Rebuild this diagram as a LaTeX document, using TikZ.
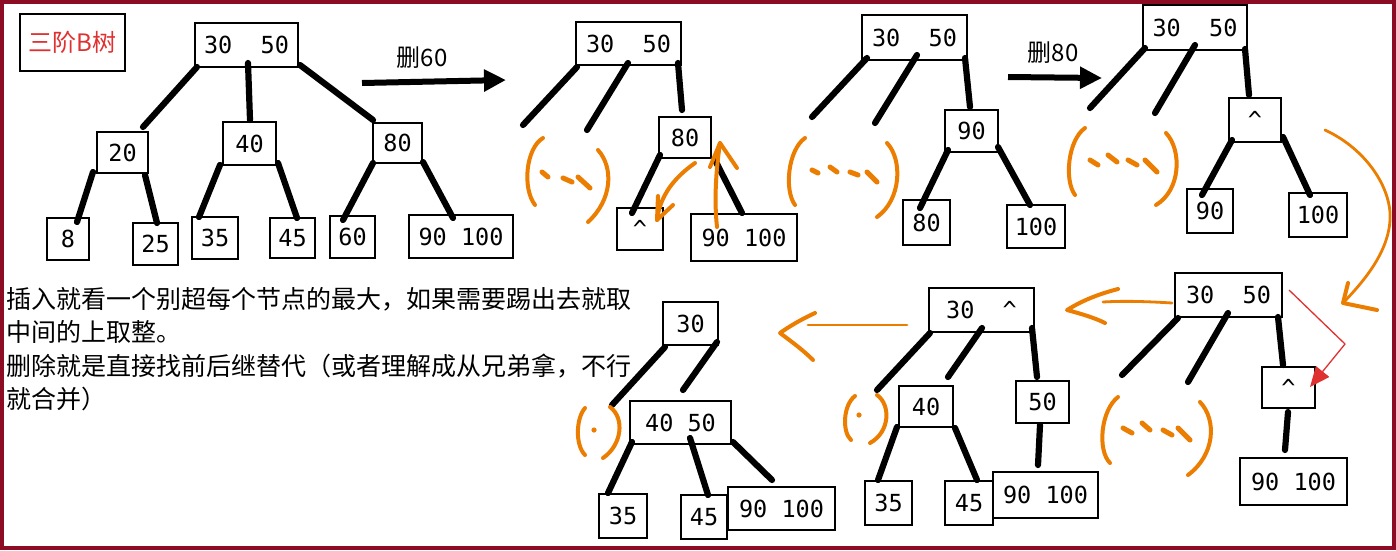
\documentclass[tikz,border=0pt]{standalone}
\usepackage{fontspec}
\setmonofont{DejaVu Sans Mono}
\newfontfamily\cjk{Noto Sans CJK SC}
\usetikzlibrary{calc,arrows.meta}
\definecolor{framered}{RGB}{140,12,35}
\definecolor{exred}{RGB}{224,49,49}
\definecolor{exorange}{RGB}{235,125,0}
\tikzset{
  bx/.style 2 args={draw=black, line width=1.8pt, rectangle, inner sep=0pt,
    minimum width=#1, minimum height=#2,
    font=\ttfamily\fontsize{23.5}{28}\selectfont, text=black},
  edge/.style={line width=6.2pt, line cap=round, black},
  orng/.style={exorange, line width=4pt, line cap=round, line join=round},
  orngdash/.style={exorange, line width=5pt, line cap=round},
  orngthin/.style={exorange, line width=2.8pt, line cap=round, line join=round},
  bigarrow/.style={line width=6pt, -{Triangle[length=22pt,width=21pt]}},
  lbl/.style={font=\cjk\fontsize{24}{28}\selectfont, inner sep=0pt},
}
\newcommand\tedge[6]{\draw[edge] ($(#1)+(#2,#3)$) -- ($(#4)+(#5,#6)$);}
\begin{document}
\begin{tikzpicture}[x=1pt,y=-1pt]
\useasboundingbox (0,0) rectangle (1396,550);
\fill[white] (0,0) rectangle (1396,550);
\draw[framered, line width=4pt] (2,2) rectangle (1394,548);

% title label
\node[draw, line width=1.8pt, minimum width=105pt, minimum height=57pt, inner sep=0pt,
  font=\cjk\fontsize{24}{28}\selectfont, text=exred] (lab) at (72.5,42.5) {三阶B树};

% explanation text
\node[anchor=north west, align=left, inner sep=0pt, font=\cjk\fontsize{25}{33.5}\selectfont] (txt) at (6,287)
  {插入就看一个别超每个节点的最大，如果需要踢出去就取\\中间的上取整。\\删除就是直接找前后继替代（或者理解成从兄弟拿，不行\\就合并）};

% ---------- tree 1 ----------
\node[bx={103pt}{44pt}] (t1r) at (246.5,45) {30~~50};
\node[bx={51pt}{41pt}] (t1a) at (122.5,152.5) {20};
\node[bx={53pt}{43pt}] (t1b) at (249.5,143.5) {40};
\node[bx={49pt}{40pt}] (t1c) at (397.5,143) {80};
\node[bx={42pt}{42pt}] (t1d) at (68,239) {8};
\node[bx={45pt}{42pt}] (t1e) at (155.5,244) {25};
\node[bx={46pt}{42pt}] (t1f) at (215,238) {35};
\node[bx={45pt}{40pt}] (t1g) at (292.5,238) {45};
\node[bx={45pt}{42pt}] (t1h) at (352.5,237) {60};
\node[bx={104pt}{43pt}] (t1i) at (461,236.5) {90 100};
\tedge{t1r}{-49.5}{22}{t1a}{20.5}{-25.5}
\tedge{t1r}{1.5}{18}{t1b}{0.5}{-23.5}
\tedge{t1r}{53.5}{20}{t1c}{-24.5}{-23}
\tedge{t1a}{-29.5}{19.5}{t1d}{9}{-17}
\tedge{t1a}{22.5}{22.5}{t1e}{1.5}{-21}
\tedge{t1b}{-29.5}{21.5}{t1f}{-16}{-21}
\tedge{t1b}{28.5}{19.5}{t1g}{4.5}{-20}
\tedge{t1c}{-24.5}{20}{t1h}{-9.5}{-17}
\tedge{t1c}{25.5}{19}{t1i}{-8}{-18.5}

% arrow delete 60
\node[lbl] (d60) at (422,58) {删60};
\coordinate (a1s) at (362,83);
\coordinate (a1e) at (506,80);
\draw[bigarrow] (a1s) -- (a1e);

% ---------- tree 2 ----------
\node[bx={105pt}{43pt}] (t2r) at (628.5,43.5) {30~~50};
\node[bx={52pt}{41pt}] (t2a) at (685,137.5) {80};
\node[bx={46pt}{42pt}] (t2b) at (640,229) {\textasciicircum};
\node[bx={106pt}{47pt}] (t2c) at (744,237.5) {90 100};
\coordinate (t2x1) at (523,125);
\coordinate (t2x2) at (587,130);
\tedge{t2r}{-51.5}{23.5}{t2x1}{0}{0}
\tedge{t2r}{-0.5}{19.5}{t2x2}{0}{0}
\tedge{t2r}{49.5}{19.5}{t2a}{-3}{-27.5}
\tedge{t2a}{-25}{17.5}{t2b}{-8}{-16}
\tedge{t2a}{30}{22.5}{t2c}{-2}{-24.5}
\draw[orng] (543,138) .. controls (526,148) and (522,188) .. (535,205);
\draw[orngdash] (542,172) -- (548,177);
\draw[orngdash] (563,178) -- (572,182);
\draw[orngdash] (578,177) -- (590,188);
\draw[orng] (598,150) .. controls (614,168) and (612,200) .. (588,222);
\draw[orng] (695,163) .. controls (675,177) and (660,195) .. (657,220);
\draw[orng] (658,196) -- (657,220) -- (673,205);
\draw[orng] (717,227) .. controls (714,200) and (716,170) .. (720,143);
\draw[orng] (710,167) -- (720,143) -- (737,168);

% ---------- tree 3 ----------
\node[bx={105pt}{45pt}] (t3r) at (914.5,37.5) {30~~50};
\node[bx={53pt}{42pt}] (t3a) at (971.5,131) {90};
\node[bx={47pt}{45pt}] (t3b) at (926.5,222.5) {80};
\node[bx={58pt}{43pt}] (t3c) at (1036,226.5) {100};
\coordinate (t3x1) at (812,117);
\coordinate (t3x2) at (875,123);
\tedge{t3r}{-47.5}{20.5}{t3x1}{0}{0}
\tedge{t3r}{2.5}{17.5}{t3x2}{0}{0}
\tedge{t3r}{50.5}{20.5}{t3a}{-1.5}{-24}
\tedge{t3a}{-23.5}{19}{t3b}{-6.5}{-14.5}
\tedge{t3a}{26.5}{16}{t3c}{-6}{-21.5}
\draw[orng] (805,138) .. controls (788,150) and (784,190) .. (795,205);
\draw[orngdash] (812,170) -- (818,173);
\draw[orngdash] (830,167) -- (837,172);
\draw[orngdash] (850,172) -- (858,175);
\draw[orngdash] (867,172) -- (877,182);
\draw[orng] (887,143) .. controls (903,160) and (901,200) .. (877,217);

% arrow delete 80
\node[lbl] (d80) at (1053,53) {删80};
\coordinate (a2s) at (1008,77);
\coordinate (a2e) at (1102,78);
\draw[bigarrow] (a2s) -- (a2e);

% ---------- tree 4 ----------
\node[bx={104pt}{45pt}] (t4r) at (1195,27.5) {30~~50};
\node[bx={52pt}{44pt}] (t4a) at (1255,120) {\textasciicircum};
\node[bx={46pt}{44pt}] (t4b) at (1210,211) {90};
\node[bx={58pt}{44pt}] (t4c) at (1318,215) {100};
\coordinate (t4x1) at (1090,108);
\coordinate (t4x2) at (1155,113);
\tedge{t4r}{-50}{20.5}{t4x1}{0}{0}
\tedge{t4r}{0}{17.5}{t4x2}{0}{0}
\tedge{t4r}{50}{21.5}{t4a}{-6}{-25}
\tedge{t4a}{-23}{20}{t4b}{-8}{-16}
\tedge{t4a}{28}{17}{t4c}{-8}{-20}
\draw[orng] (1085,128) .. controls (1068,140) and (1064,180) .. (1075,195);
\draw[orngdash] (1090,160) -- (1098,165);
\draw[orngdash] (1108,155) -- (1117,162);
\draw[orngdash] (1128,160) -- (1137,165);
\draw[orngdash] (1145,160) -- (1157,172);
\draw[orng] (1166,133) .. controls (1182,150) and (1181,190) .. (1156,205);
% big curved arrow down to tree 5
\draw[orngthin] (1325,130) .. controls (1368,150) and (1392,190) .. (1390,220)
  .. controls (1388,255) and (1360,285) .. (1343,303);
\draw[orng] (1348,283) -- (1343,303) -- (1377,310);

% ---------- tree 5 ----------
\node[bx={107pt}{44pt}] (t5r) at (1228.5,295) {30~~50};
\node[bx={53pt}{41pt}] (t5a) at (1288.5,387.5) {\textasciicircum};
\node[bx={107pt}{47pt}] (t5b) at (1293.5,481.5) {90 100};
\coordinate (t5x1) at (1122,375);
\coordinate (t5x2) at (1188,382);
\tedge{t5r}{-50.5}{23}{t5x1}{0}{0}
\tedge{t5r}{-0.5}{18}{t5x2}{0}{0}
\tedge{t5r}{49.5}{22}{t5a}{-5.5}{-22.5}
\tedge{t5a}{-0.5}{24.5}{t5b}{-8.5}{-31.5}
\draw[orng] (1118,397) .. controls (1101,410) and (1097,450) .. (1110,463);
\draw[orngdash] (1123,428) -- (1132,433);
\draw[orngdash] (1142,423) -- (1150,430);
\draw[orngdash] (1163,430) -- (1172,435);
\draw[orngdash] (1178,428) -- (1190,440);
\draw[orng] (1200,402) .. controls (1217,420) and (1215,455) .. (1188,475);
\draw[exred, line width=1.3pt, line join=round, -{Triangle[length=20pt,width=17pt]}]
  ($(t5r)+(60.5,-5)$) -- ($(t5r)+(116.5,49)$) -- ($(t5a)+(21.5,-0.5)$);
% arrow tree 5 -> tree 6
\draw[orngthin] (1172,303) .. controls (1140,301) and (1120,301) .. (1103,302);
\draw[orng] (1118,289) .. controls (1095,295) and (1080,302) .. (1067,310)
  .. controls (1082,314) and (1095,318) .. (1105,323);

% ---------- tree 6 ----------
\node[bx={105pt}{44pt}] (t6r) at (981.5,310) {30~~\textasciicircum};
\node[bx={54pt}{41pt}] (t6a) at (926,406.5) {40};
\node[bx={53pt}{42pt}] (t6b) at (1042.5,402) {50};
\node[bx={47pt}{44pt}] (t6c) at (888.5,503) {35};
\node[bx={48pt}{44pt}] (t6d) at (969,503) {45};
\node[bx={105pt}{46pt}] (t6e) at (1045.5,495) {90 100};
\coordinate (t6x1) at (877,390);
\tedge{t6r}{-51.5}{23}{t6x1}{0}{0}
\tedge{t6r}{0.5}{18}{t6a}{22}{-29.5}
\tedge{t6r}{50.5}{18}{t6b}{-5.5}{-25}
\tedge{t6a}{-29}{20.5}{t6c}{-10.5}{-23}
\tedge{t6a}{29}{21.5}{t6d}{8}{-23}
\tedge{t6b}{-2.5}{23}{t6e}{-7.5}{-30}
\draw[orng] (855,396) .. controls (843,405) and (842,432) .. (851,440);
\fill[exorange] (859,415) circle (2.6);
\draw[orng] (877,395) .. controls (891,405) and (890,432) .. (870,443);
% arrow tree 6 -> tree 7
\draw[orngthin] (907,325) -- (808,325);
\draw[orng] (815,313) .. controls (800,320) and (790,326) .. (780,333)
  .. controls (792,342) and (803,350) .. (813,360);

% ---------- tree 7 ----------
\node[bx={55pt}{43pt}] (t7r) at (690.5,323.5) {30};
\node[bx={101pt}{43pt}] (t7a) at (680.5,422.5) {40 50};
\node[bx={48pt}{44pt}] (t7b) at (623,516) {35};
\node[bx={46pt}{44pt}] (t7c) at (704,517) {45};
\node[bx={107pt}{43pt}] (t7d) at (781.5,508.5) {90 100};
\coordinate (t7x1) at (612,405);
\tedge{t7r}{-25.5}{23.5}{t7x1}{0}{0}
\tedge{t7r}{26.5}{18.5}{t7a}{2.5}{-32.5}
\tedge{t7a}{-48.5}{19.5}{t7b}{-15}{-23}
\tedge{t7a}{9.5}{15.5}{t7c}{4}{-22}
\tedge{t7a}{52.5}{19.5}{t7d}{-9.5}{-28.5}
\draw[orng] (585,408) .. controls (576,418) and (575,445) .. (585,455);
\fill[exorange] (594,430) circle (2.6);
\draw[orng] (610,407) .. controls (625,418) and (622,445) .. (603,458);
\end{tikzpicture}
\end{document}
